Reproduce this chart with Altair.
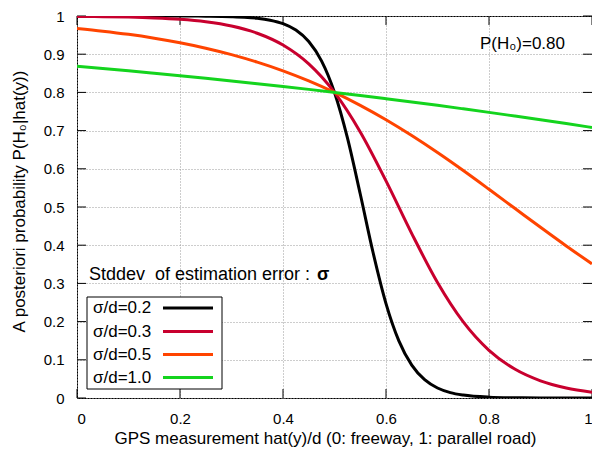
import altair as alt
import pandas as pd

# ---- data ----
series_names = ["σ/d=0.2", "σ/d=0.3", "σ/d=0.5", "σ/d=1.0"]
series_colors = ["#000000", "#c8002e", "#ff4400", "#14d41e"]

x_s02 = [0.0, 0.1, 0.2, 0.25, 0.3, 0.325, 0.35, 0.375, 0.4, 0.425, 0.45, 0.475, 0.5,
         0.525, 0.55, 0.575, 0.6, 0.625, 0.65, 0.675, 0.7, 0.725, 0.75, 0.8, 0.85, 0.9, 1.0]
p_s02 = [1.0, 1.0, 0.9999, 0.9995, 0.9983, 0.9969, 0.9942, 0.9891, 0.9799, 0.9631, 0.9332, 0.8820, 0.8,
         0.6816, 0.5340, 0.3802, 0.2472, 0.1495, 0.0860, 0.0479, 0.0262, 0.0142, 0.0077, 0.0022, 0.0006, 0.0002, 0.0]

x_common = [0.0, 0.05, 0.1, 0.15, 0.2, 0.25, 0.3, 0.35, 0.4, 0.45, 0.5,
            0.55, 0.6, 0.65, 0.7, 0.75, 0.8, 0.85, 0.9, 0.95, 1.0]
p_s03 = [0.9990, 0.9983, 0.9971, 0.9949, 0.9912, 0.9847, 0.9736, 0.9549, 0.9240, 0.8746, 0.8,
         0.6965, 0.5684, 0.4304, 0.3024, 0.1992, 0.1249, 0.0757, 0.0449, 0.0262, 0.0152]
p_s05 = [0.9673, 0.9603, 0.9520, 0.9419, 0.9300, 0.9158, 0.8990, 0.8793, 0.8565, 0.8301, 0.8,
         0.7661, 0.7284, 0.6870, 0.6425, 0.5954, 0.5464, 0.4966, 0.4468, 0.3980, 0.3512]
p_s10 = [0.8683, 0.8625, 0.8565, 0.8502, 0.8437, 0.8370, 0.8301, 0.8229, 0.8155, 0.8079, 0.8,
         0.7919, 0.7835, 0.7749, 0.7661, 0.7570, 0.7477, 0.7381, 0.7284, 0.7184, 0.7081]

x_ticks = [0, 0.2, 0.4, 0.6, 0.8, 1.0]
y_ticks = [0, 0.1, 0.2, 0.3, 0.4, 0.5, 0.6, 0.7, 0.8, 0.9, 1.0]

x_title = "GPS measurement hat(y)/d (0: freeway, 1: parallel road)"
y_title = "A posteriori probability P(H₀|hat(y))"
legend_title = "Stddev\u00a0 of estimation error : "
legend_sigma = "σ"
prior_text = "P(H₀)=0.80"

# ---- layout / style ----
W, H = 515, 382
FONT = "Liberation Sans"
FS_TICK = 15
FS = 17

xs = alt.Scale(domain=[0, 1], nice=False, zero=False)
ys = alt.Scale(domain=[0, 1], nice=False, zero=False)

x_axis = alt.Axis(values=x_ticks, format="~g", title=x_title, grid=True,
                  ticks=False, domain=False, labelPadding=13, titlePadding=4, titleX=248)
y_axis = alt.Axis(values=y_ticks, format="~g", title=y_title, grid=True,
                  ticks=False, domain=False, labelPadding=13, titlePadding=15, titleY=185)


def X(field):
    return alt.X(field, scale=xs, axis=x_axis)


def Y(field):
    return alt.Y(field, scale=ys, axis=y_axis)


all_series = [
    (series_names[0], x_s02, p_s02),
    (series_names[1], x_common, p_s03),
    (series_names[2], x_common, p_s05),
    (series_names[3], x_common, p_s10),
]

layers = []
one = pd.DataFrame({"a": [0]})

# legend box (white fill covering grid)
layers.append(
    alt.Chart(one).mark_rect(fill="white", stroke="black", strokeWidth=1).encode(
        x=alt.value(10), x2=alt.value(145), y=alt.value(281), y2=alt.value(373)
    )
)

# inward ticks
xt_df = pd.DataFrame({"v": x_ticks})
yt_df = pd.DataFrame({"v": y_ticks})
layers.append(alt.Chart(xt_df).mark_rule(color="black", strokeWidth=1).encode(
    x=X("v:Q"), y=alt.value(H), y2=alt.value(H - 9)))
layers.append(alt.Chart(xt_df).mark_rule(color="black", strokeWidth=1).encode(
    x=X("v:Q"), y=alt.value(0), y2=alt.value(9)))
layers.append(alt.Chart(yt_df).mark_rule(color="black", strokeWidth=1).encode(
    y=Y("v:Q"), x=alt.value(0), x2=alt.value(9)))
layers.append(alt.Chart(yt_df).mark_rule(color="black", strokeWidth=1).encode(
    y=Y("v:Q"), x=alt.value(W), x2=alt.value(W - 9)))

# curves
for name, xv, pv in all_series:
    df = pd.DataFrame({"x": xv, "p": pv})
    color = series_colors[series_names.index(name)]
    layers.append(
        alt.Chart(df).mark_line(color=color, strokeWidth=3, interpolate="monotone", clip=True).encode(
            x=X("x:Q"), y=Y("p:Q")
        )
    )

# manual legend
leg_rows = [292, 315.5, 338.5, 361.5]
for name, color, ty in zip(series_names, series_colors, leg_rows):
    layers.append(
        alt.Chart(one).mark_text(align="left", baseline="middle", font=FONT, fontSize=FS,
                                 color="black", text=name).encode(
            x=alt.value(16), y=alt.value(ty)
        )
    )
    layers.append(
        alt.Chart(one).mark_rule(strokeWidth=3, color=color).encode(
            x=alt.value(86), x2=alt.value(136), y=alt.value(ty)
        )
    )

# legend title and prior annotation
layers.append(
    alt.Chart(one).mark_text(align="left", baseline="middle", font=FONT, fontSize=18,
                             color="black", text=legend_title).encode(
        x=alt.value(12), y=alt.value(259)
    )
)
layers.append(
    alt.Chart(one).mark_text(align="left", baseline="middle", font=FONT, fontSize=18,
                             fontWeight="bold", color="black", text=legend_sigma).encode(
        x=alt.value(240), y=alt.value(259)
    )
)
layers.append(
    alt.Chart(one).mark_text(align="right", baseline="middle", font=FONT, fontSize=FS,
                             color="black", text=prior_text).encode(
        x=alt.value(488), y=alt.value(28)
    )
)

chart = alt.layer(*layers).properties(
    width=W, height=H,
    autosize=alt.AutoSizeParams(type="none"),
    padding={"left": 69, "top": 8, "right": 0, "bottom": 50},
).configure(
    background="white"
).configure_view(
    stroke="black", strokeWidth=1
).configure_axis(
    labelFont=FONT, labelFontSize=FS_TICK, labelColor="black",
    titleFont=FONT, titleFontSize=FS, titleFontWeight="normal", titleColor="black",
    gridColor="#9a9a9a", gridDash=[1, 2], gridWidth=1, gridOpacity=1,
)

chart.save("out.html", embed_options={"renderer": "svg", "actions": False})
